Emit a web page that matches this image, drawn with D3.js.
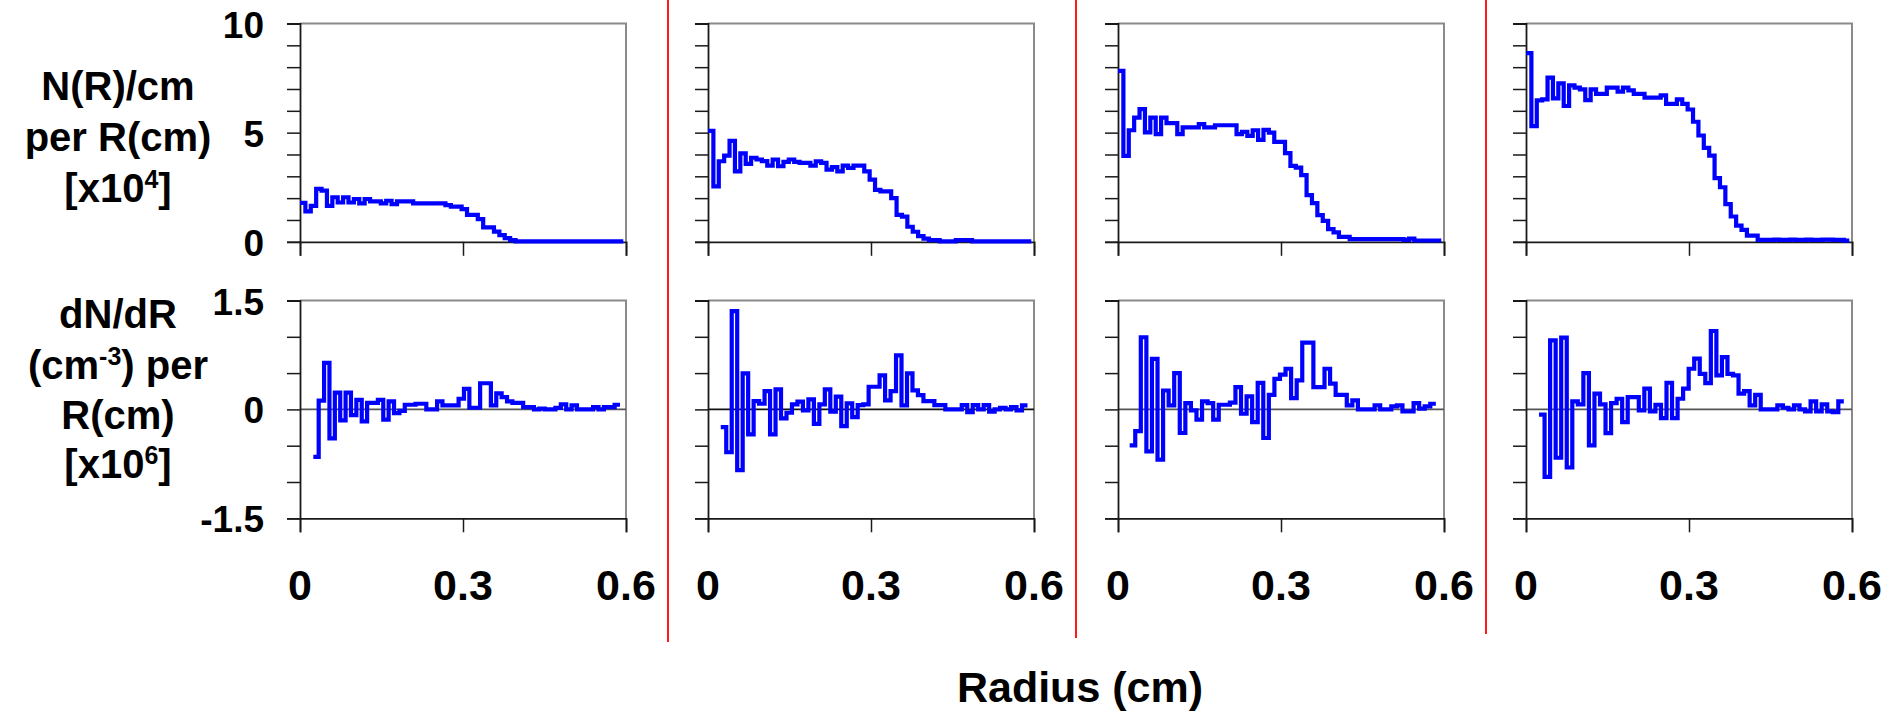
<!DOCTYPE html>
<html><head><meta charset="utf-8">
<script src="https://cdn.jsdelivr.net/npm/d3@7/dist/d3.min.js"></script>
<style>
html,body{margin:0;padding:0;background:#fff;}
svg{display:block;font-family:"Liberation Sans",Arial,Helvetica,sans-serif;font-weight:bold;}
</style>
</head><body>
<svg id="chart" width="1888" height="711"></svg>
<script>
// ---------------- DATA ----------------
const xTickValues = [0, 0.3, 0.6];
const xTickLabels = ["0", "0.3", "0.6"];
const nTickValues = [0,1,2,3,4,5,6,7,8,9,10];
const nTickLabelValues = [0, 5, 10];
const dTickValues = [-1.5,-1,-0.5,0,0.5,1,1.5];
const dTickLabelValues = [-1.5, 0, 1.5];
const xAxisTitle = "Radius (cm)";

// N(R)/cm per R (x1e4), step series, start/end radius (cm)
const nStart = [0, 0, 0, 0];
const nEnd = [0.595, 0.595, 0.595, 0.595];
const nSeries1 = [1.78,1.39,1.65,2.42,2.34,1.65,2.04,1.80,2.04,1.80,1.96,1.76,1.96,1.85,1.85,1.76,1.88,1.73,1.85,1.85,
  1.85,1.76,1.76,1.76,1.76,1.76,1.76,1.68,1.61,1.61,1.50,1.23,1.23,1.04,0.66,0.66,0.47,0.31,0.17,0.08,
  0.02,0.02,0.02,0.02,0.02,0.02,0.02,0.02,0.02,0.02,0.02,0.02,0.02,0.02,0.02,0.02,0.02,0.02,0.02,0.02];
const nSeries2 = [5.08,2.54,3.69,3.95,4.62,3.23,4.05,3.57,3.85,3.77,3.70,3.49,3.77,3.46,3.66,3.77,3.66,3.62,3.62,3.49,
  3.69,3.62,3.31,3.42,3.23,3.49,3.38,3.49,3.49,3.23,2.85,2.38,2.31,2.31,2.00,1.23,1.15,0.69,0.46,0.26,
  0.15,0.08,0.08,0.02,0.02,0.02,0.08,0.08,0.08,0.02,0.02,0.02,0.02,0.02,0.02,0.02,0.02,0.02,0.02,0.02];
const nSeries3 = [7.83,3.94,5.11,5.69,6.08,5.01,5.69,4.93,5.69,5.44,5.44,4.93,5.24,5.24,5.24,5.39,5.24,5.24,5.34,5.34,
  5.34,5.34,4.93,5.04,4.85,5.11,4.67,5.13,5.00,4.58,4.58,4.06,3.48,3.40,3.05,2.14,1.77,1.22,0.96,0.58,
  0.43,0.23,0.23,0.12,0.12,0.12,0.12,0.12,0.12,0.12,0.12,0.12,0.12,0.09,0.15,0.06,0.06,0.06,0.06,0.06];
const nSeries4 = [8.64,5.30,6.48,6.52,7.52,6.57,7.26,6.22,7.17,7.06,6.98,6.49,6.98,6.78,6.78,7.06,7.06,6.88,7.06,6.94,
  6.78,6.78,6.60,6.60,6.60,6.71,6.32,6.32,6.52,6.32,6.06,5.50,4.87,4.30,3.95,2.92,2.50,1.73,1.16,0.74,
  0.55,0.28,0.28,0.09,0.09,0.09,0.10,0.09,0.09,0.10,0.09,0.09,0.10,0.09,0.09,0.10,0.10,0.09,0.09,0.05];

// dN/dR (cm^-3) per R (x1e6), step series
const dStart = [0.0245, 0.0235, 0.0215, 0.024];
const dEnd = [0.589, 0.588, 0.585, 0.585];
const dSeries1 = [-0.655,0.12,0.64,-0.40,0.23,-0.15,0.23,-0.08,0.13,-0.165,0.09,0.09,0.13,-0.14,0.11,-0.05,-0.02,0.064,0.064,0.078,
  0.078,0,0,0.11,0.055,0.055,0.055,0.147,0.284,0.023,0.023,0.36,0.36,0.055,0.22,0.17,0.11,0.09,0.09,0.03,
  0.03,0,0.01,0,0,0.02,0.07,0,0.055,0,0,0,0.03,0,0.03,0.03,0.064];
const dSeries2 = [-0.243,-0.59,1.355,-0.836,0.496,-0.345,0.115,0.078,0.253,-0.345,0.276,-0.124,-0.046,0.069,0.106,-0.014,0.138,-0.198,0.069,0.276,
  -0.032,0.175,-0.23,0.083,-0.106,0.06,0.069,0.312,0.312,0.469,0.124,0.253,0.744,0.055,0.496,0.262,0.198,0.115,0.115,0.06,
  0.06,0,0,0,0.06,-0.037,0.06,0,0.06,-0.032,0,0.023,0,0.032,-0.014,0.055];
const dSeries3 = [-0.495,-0.30,0.994,-0.577,0.696,-0.692,0.26,0.055,0.50,-0.325,0.087,-0.014,-0.142,0.11,0.087,-0.142,0.064,0.064,0.092,0.307,
  -0.06,0.18,-0.174,0.366,-0.394,0.20,0.42,0.48,0.56,0.156,0.40,0.92,0.92,0.308,0.308,0.56,0.354,0.20,0.20,0.055,
  0.124,0,0,0,0.055,0,0,0.041,0.055,-0.028,-0.028,0.087,0.01,0.041,0.078];
const dSeries4 = [-0.073,-0.93,0.95,-0.666,0.988,-0.80,0.11,0.069,0.50,-0.496,0.216,0.069,-0.326,0.087,0.147,-0.175,0.17,0.17,-0.014,0.285,
  -0.028,0.064,-0.12,0.367,-0.12,0.147,0.285,0.56,0.70,0.49,0.363,1.08,0.47,0.72,0.49,0.47,0.216,0.253,0.055,0.20,
  0,0,0,0.055,0.023,0,0.055,0,-0.028,0.11,-0.028,0.069,-0.028,-0.037,0.11];

const nSeries = [nSeries1, nSeries2, nSeries3, nSeries4];
const dSeries = [dSeries1, dSeries2, dSeries3, dSeries4];

// ---------------- LAYOUT ----------------
const svg = d3.select("#chart");
const lefts = [300, 708, 1118, 1526];
const W = 326;
const topT = 23.5, topB = 241.8, botT = 300.5, botB = 518.3;
const redX = [668, 1076, 1486];
const redBottom = [642, 638, 634];
const blue = "#0000ff";
const frameGray = "#8a8a8a";
const axisBlack = "#1a1a1a";

function stepPoints(vals, start, end) {
  const w = (end - start) / vals.length;
  const pts = vals.map((v, i) => [start + i * w, v]);
  pts.push([end, vals[vals.length - 1]]);
  return pts;
}

// red separators
redX.forEach((rx, i) => {
  svg.append("line").attr("x1", rx).attr("x2", rx).attr("y1", 0).attr("y2", redBottom[i])
    .attr("stroke", "#ff0000").attr("stroke-width", 1.8);
});

lefts.forEach((L, i) => {
  const x = d3.scaleLinear().domain([0, 0.6]).range([L, L + W]);
  const yN = d3.scaleLinear().domain([0, 10]).range([topB, topT]);
  const yD = d3.scaleLinear().domain([-1.5, 1.5]).range([botB, botT]);

  // ---- top plot ----
  const gT = svg.append("g");
  gT.append("path")
    .attr("d", `M${x(0)},${yN(10)}H${x(0.6)}V${yN(0)}`)
    .attr("fill", "none").attr("stroke", frameGray).attr("stroke-width", 2);
  const axL = gT.append("g").attr("transform", `translate(${x(0)},0)`)
    .call(d3.axisLeft(yN).tickValues(nTickValues).tickSize(13).tickFormat(""));
  const axB = gT.append("g").attr("transform", `translate(0,${yN(0)})`)
    .call(d3.axisBottom(x).tickValues(xTickValues).tickSize(14).tickFormat(""));
  [axL, axB].forEach(a => {
    a.select(".domain").attr("stroke", axisBlack).attr("stroke-width", 1.8);
    a.selectAll(".tick line").attr("stroke", axisBlack).attr("stroke-width", 1.5);
  });
  const lineN = d3.line().x(d => x(d[0])).y(d => yN(d[1])).curve(d3.curveStepAfter);
  gT.append("path").attr("d", lineN(stepPoints(nSeries[i], nStart[i], nEnd[i])))
    .attr("fill", "none").attr("stroke", blue).attr("stroke-width", 4.2)
    .attr("stroke-linejoin", "miter");

  // ---- bottom plot ----
  const gB = svg.append("g");
  gB.append("path")
    .attr("d", `M${x(0)},${yD(1.5)}H${x(0.6)}V${yD(-1.5)}`)
    .attr("fill", "none").attr("stroke", frameGray).attr("stroke-width", 2);
  gB.append("line").attr("x1", x(0)).attr("x2", x(0.6)).attr("y1", yD(0)).attr("y2", yD(0))
    .attr("stroke", i === 1 ? "#111" : "#555").attr("stroke-width", 1.6);
  const axL2 = gB.append("g").attr("transform", `translate(${x(0)},0)`)
    .call(d3.axisLeft(yD).tickValues(dTickValues).tickSize(13).tickFormat(""));
  const axB2 = gB.append("g").attr("transform", `translate(0,${yD(-1.5)})`)
    .call(d3.axisBottom(x).tickValues(xTickValues).tickSize(14).tickFormat(""));
  [axL2, axB2].forEach(a => {
    a.select(".domain").attr("stroke", axisBlack).attr("stroke-width", 1.8);
    a.selectAll(".tick line").attr("stroke", axisBlack).attr("stroke-width", 1.5);
  });
  const lineD = d3.line().x(d => x(d[0])).y(d => yD(d[1])).curve(d3.curveStepAfter);
  gB.append("path").attr("d", lineD(stepPoints(dSeries[i], dStart[i], dEnd[i])))
    .attr("fill", "none").attr("stroke", blue).attr("stroke-width", 4.2)
    .attr("stroke-linejoin", "miter");

  // x tick labels
  svg.append("g").selectAll("text").data(xTickValues).join("text")
    .attr("x", d => x(d)).attr("y", 600)
    .attr("text-anchor", "middle").attr("font-size", 43).attr("fill", "#000")
    .text((d, k) => xTickLabels[k]);

  // y tick labels (only first panel)
  if (i === 0) {
    svg.append("g").selectAll("text").data(nTickLabelValues).join("text")
      .attr("x", 264).attr("y", d => yN(d) + 14)
      .attr("text-anchor", "end").attr("font-size", 37).attr("fill", "#000")
      .text(d => String(d));
    svg.append("g").selectAll("text").data(dTickLabelValues).join("text")
      .attr("x", 264).attr("y", d => yD(d) + 14)
      .attr("text-anchor", "end").attr("font-size", 37).attr("fill", "#000")
      .text(d => String(d));
  }
});

// left axis titles
const cx = 118;
function labelLine(y, parts) {
  const t = svg.append("text").attr("x", cx).attr("y", y).attr("text-anchor", "middle")
    .attr("font-size", 40).attr("fill", "#000");
  parts.forEach(p => {
    const s = t.append("tspan").text(p.t);
    if (p.sup) s.attr("font-size", 25).attr("baseline-shift", "super");
  });
}
labelLine(100, [{t: "N(R)/cm"}]);
labelLine(151, [{t: "per R(cm)"}]);
labelLine(202, [{t: "[x10"}, {t: "4", sup: true}, {t: "]"}]);
labelLine(328, [{t: "dN/dR"}]);
labelLine(379, [{t: "(cm"}, {t: "-3", sup: true}, {t: ") per"}]);
labelLine(429, [{t: "R(cm)"}]);
labelLine(478, [{t: "[x10"}, {t: "6", sup: true}, {t: "]"}]);

// x axis title
svg.append("text").attr("x", 1080).attr("y", 702).attr("text-anchor", "middle")
  .attr("font-size", 43).attr("fill", "#000").text(xAxisTitle);
</script>
</body></html>
